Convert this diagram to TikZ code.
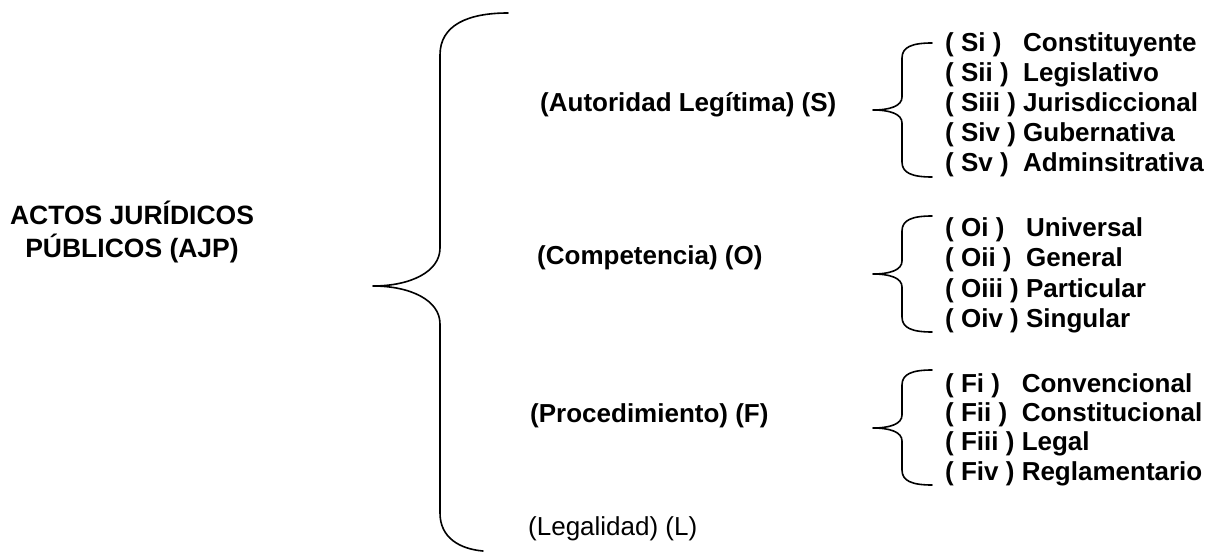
\documentclass[tikz,border=0pt]{standalone}
\usepackage{fontspec}
\setmainfont{Liberation Sans}

% a row "( tag ) word" whose word starts where it would after the widest tag #1
\newcommand{\tagrow}[3]{\setbox0=\hbox{#1\ }\makebox[\wd0][l]{#2}#3}

\tikzset{
  lbl/.style={anchor=base west, inner sep=0pt, font=\fontsize{26}{30}\selectfont\bfseries},
  plainlbl/.style={anchor=base west, inner sep=0pt, font=\fontsize{26}{30}\selectfont},
  entry/.style={anchor=base west, inner sep=0pt, font=\fontsize{26}{30}\selectfont\bfseries},
  brace/.style={draw=black, line width=1.6pt, line join=round, line cap=round}
}

% small brace: #1 end x, #2 spine x, #3 tip x, #4 top y, #5 tip y, #6 bottom y
\newcommand{\smallbrace}[6]{%
  \path[brace] (#1,#4) .. controls ({#2+10},#4) and (#2,{#4+4}) .. (#2,{#4+15})
    -- (#2,{#5-13}) .. controls (#2,{#5-4}) and ({#2-12},#5) .. (#3,#5)
    .. controls ({#2-12},#5) and (#2,{#5+4}) .. (#2,{#5+13})
    -- (#2,{#6-15}) .. controls (#2,{#6-4}) and ({#2+10},#6) .. (#1,#6);}

\begin{document}
\begin{tikzpicture}[x=1pt, y=-1pt]
\useasboundingbox (0,0) rectangle (1212,553);

% main heading
\node[anchor=base, inner sep=0pt, align=center,
      font=\fontsize{26.5}{33.5}\selectfont\bfseries] (hd) at (132,258)
  {ACTOS JURÍDICOS\\PÚBLICOS (AJP)};

% large brace
\path[brace] (508,13) .. controls (468,13) and (440,25) .. (440,55)
  -- (440,248) .. controls (440,272) and (410,286) .. (373,286)
  .. controls (410,286) and (440,300) .. (440,324)
  -- (440,513) .. controls (440,538) and (460,549) .. (483,551);

% second-level labels
\node[lbl] (lS) at (540,112) {(Autoridad Legítima) (S)};
\node[lbl] (lO) at (537,265) {(Competencia) (O)};
\node[lbl] (lF) at (530,422) {(Procedimiento) (F)};
\node[plainlbl] (lL) at (528,535) {(Legalidad) (L)};

% small braces
\smallbrace{932}{902}{873}{43}{110}{177}
\smallbrace{932}{902}{873}{216}{274}{332}
\smallbrace{932}{902}{873}{370}{428}{485}

% S entries
\node[entry] (s1) at (945,52)  {\tagrow{( Siii )}{( Si )}{Constituyente}};
\node[entry] (s2) at (945,82)  {\tagrow{( Siii )}{( Sii )}{Legislativo}};
\node[entry] (s3) at (945,112) {\tagrow{( Siii )}{( Siii )}{Jurisdiccional}};
\node[entry] (s4) at (945,142) {\tagrow{( Siii )}{( Siv )}{Gubernativa}};
\node[entry] (s5) at (945,172) {\tagrow{( Siii )}{( Sv )}{Adminsitrativa}};

% O entries
\node[entry] (o1) at (945,237) {\tagrow{( Oiii )}{( Oi )}{Universal}};
\node[entry] (o2) at (945,267) {\tagrow{( Oiii )}{( Oii )}{General}};
\node[entry] (o3) at (945,297) {\tagrow{( Oiii )}{( Oiii )}{Particular}};
\node[entry] (o4) at (945,327) {\tagrow{( Oiii )}{( Oiv )}{Singular}};

% F entries
\node[entry] (f1) at (945,392) {\tagrow{( Fiii )}{( Fi )}{Convencional}};
\node[entry] (f2) at (945,421) {\tagrow{( Fiii )}{( Fii )}{Constitucional}};
\node[entry] (f3) at (945,450) {\tagrow{( Fiii )}{( Fiii )}{Legal}};
\node[entry] (f4) at (945,480) {\tagrow{( Fiii )}{( Fiv )}{Reglamentario}};
\end{tikzpicture}
\end{document}
